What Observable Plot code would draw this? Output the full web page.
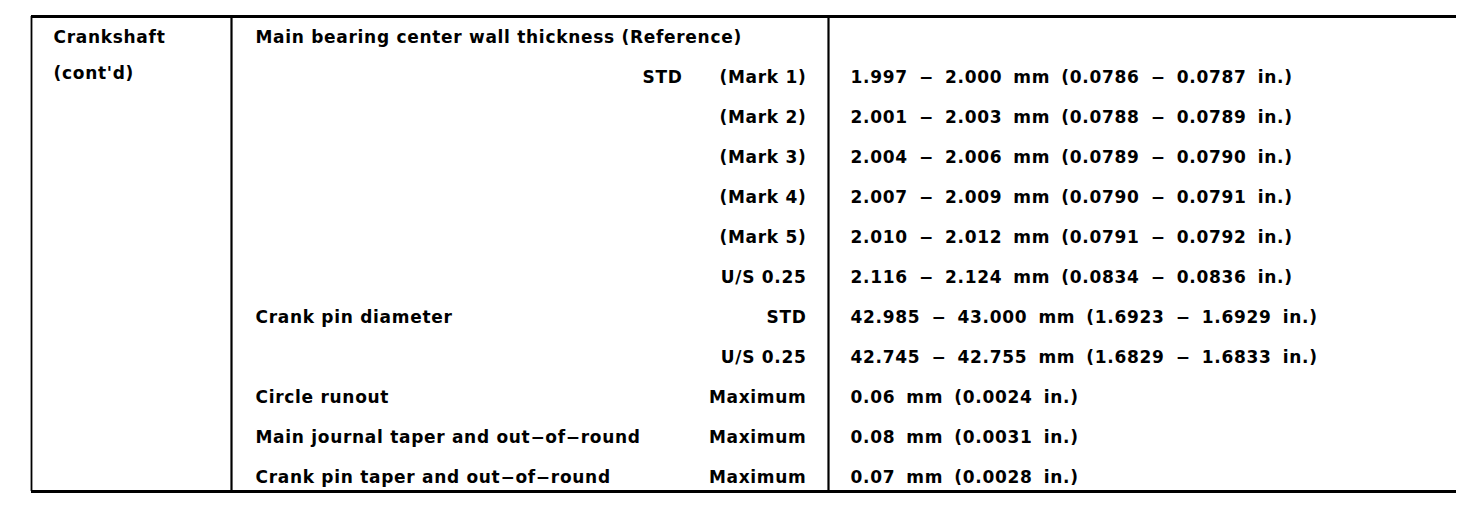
<!DOCTYPE html>
<html>
<head>
<meta charset="utf-8">
<script src="https://cdn.jsdelivr.net/npm/d3@7"></script>
<script src="https://cdn.jsdelivr.net/npm/@observablehq/plot@0.6"></script>
<style>
  html, body { margin: 0; padding: 0; background: #fff; }
  #chart svg { display: block; }
</style>
</head>
<body>
<div id="chart"></div>
<script>
// ---- data ----
const groupLabels = ["Crankshaft", "(cont'd)"];
const params = [
  "Main bearing center wall thickness (Reference)", "", "", "", "", "", "",
  "Crank pin diameter", "",
  "Circle runout",
  "Main journal taper and out\u2212of\u2212round",
  "Crank pin taper and out\u2212of\u2212round"
];
const grades = ["", "STD", "", "", "", "", "", "", "", "", "", ""];
const qualifiers = ["", "(Mark 1)", "(Mark 2)", "(Mark 3)", "(Mark 4)", "(Mark 5)", "U/S 0.25",
  "STD", "U/S 0.25", "Maximum", "Maximum", "Maximum"];
const mmLow  = [null, 1.997, 2.001, 2.004, 2.007, 2.010, 2.116, 42.985, 42.745, null, null, null];
const mmHigh = [null, 2.000, 2.003, 2.006, 2.009, 2.012, 2.124, 43.000, 42.755, 0.06, 0.08, 0.07];
const inLow  = [null, 0.0786, 0.0788, 0.0789, 0.0790, 0.0791, 0.0834, 1.6923, 1.6829, null, null, null];
const inHigh = [null, 0.0787, 0.0789, 0.0790, 0.0791, 0.0792, 0.0836, 1.6929, 1.6833, 0.0024, 0.0031, 0.0028];

// ---- layout (table geometry, in x-scale units) ----
const X = { left: 31, div1: 231, div2: 828, right: 1456,
            group: 53, param: 255, gradeEnd: 682, qualEnd: 806, value: 850 };
const Y = { top: -0.525, bottom: 11.35, groupStep: 0.9 };

const D = "\u2212";
function fmtValue(i) {
  if (mmHigh[i] == null) return "";
  if (mmLow[i] == null) return `${mmHigh[i].toFixed(2)} mm (${inHigh[i].toFixed(4)} in.)`;
  return `${mmLow[i].toFixed(3)} ${D} ${mmHigh[i].toFixed(3)} mm (${inLow[i].toFixed(4)} ${D} ${inHigh[i].toFixed(4)} in.)`;
}
const rows = params.map((p, i) => ({
  row: i, param: p, grade: grades[i], qual: qualifiers[i], value: fmtValue(i)
}));
const groups = groupLabels.map((g, i) => ({ row: i * Y.groupStep, label: g }));

const font = { fontSize: 17, fontWeight: "bold", fill: "#000" };

const chart = Plot.plot({
  width: 1472,
  height: 510,
  margin: 0,
  x: { domain: [0, 1472], range: [0, 1472], axis: null },
  y: { domain: [Y.top, Y.bottom], range: [16, 491], axis: null },
  style: {
    fontFamily: "'DejaVu Sans', sans-serif",
    letterSpacing: "0.7px",
    background: "#fff",
    color: "#000"
  },
  marks: [
    Plot.ruleY([Y.top], { x1: X.left, x2: X.right, stroke: "#000", strokeWidth: 3 }),
    Plot.ruleY([Y.bottom], { x1: X.left, x2: X.right, stroke: "#000", strokeWidth: 3 }),
    Plot.ruleX([X.left], { y1: Y.top, y2: Y.bottom, stroke: "#000", strokeWidth: 1.8 }),
    Plot.ruleX([X.div1, X.div2], { y1: Y.top, y2: Y.bottom, stroke: "#000", strokeWidth: 2.2 }),
    Plot.text(groups, { x: X.group, y: "row", text: "label", textAnchor: "start", ...font }),
    Plot.text(rows, { x: X.param, y: "row", text: "param", textAnchor: "start", ...font }),
    Plot.text(rows, { x: X.gradeEnd, y: "row", text: "grade", textAnchor: "end", ...font }),
    Plot.text(rows, { x: X.qualEnd, y: "row", text: "qual", textAnchor: "end", ...font }),
    Plot.text(rows, { x: X.value, y: "row", text: "value", textAnchor: "start", ...font })
  ]
});
// wider word gaps in the value column, as in the reference
const textGroups = chart.querySelectorAll('g[aria-label="text"]');
if (textGroups.length) textGroups[textGroups.length - 1].style.wordSpacing = "4.5px";
document.getElementById("chart").appendChild(chart);
</script>
</body>
</html>
